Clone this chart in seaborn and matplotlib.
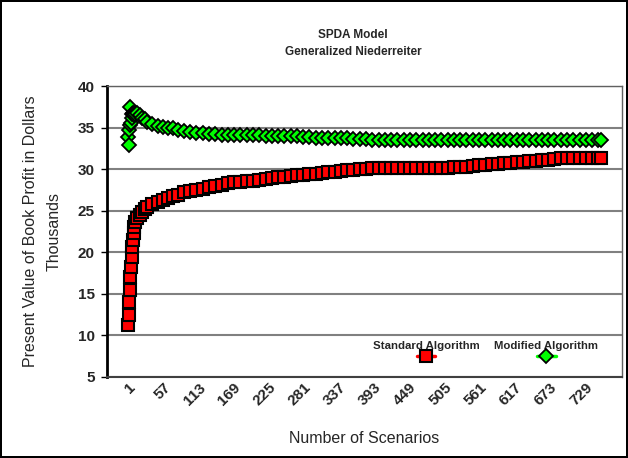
import pandas as pd
import matplotlib
matplotlib.use("Agg")
import matplotlib.pyplot as plt
import seaborn as sns
from matplotlib.offsetbox import VPacker

# scenario numbers at which the running estimate is drawn
scenarios = [
    1, 2, 3, 4, 5, 6, 7, 8, 9, 10, 11, 12,
    16, 20, 24, 28, 32, 40, 48, 56, 64, 72, 80,
    90, 100, 110, 120, 130, 140, 150, 160, 170, 180,
    190, 200, 210, 220, 230, 240, 250, 260, 270, 280,
    290, 300, 310, 320, 330, 340, 350, 360, 370, 380,
    390, 400, 410, 420, 430, 440, 450, 460, 470, 480,
    490, 500, 510, 520, 530, 540, 550, 560, 570, 580,
    590, 600, 610, 620, 630, 640, 650, 660, 670, 680,
    690, 700, 710, 720, 730, 740, 750, 754,
]

# Standard Algorithm (thousands of dollars)
standard = [
    11.2, 12.4, 14.0, 15.5, 17.0, 18.2, 19.4, 20.6, 21.5, 22.3, 23.0, 23.6,
    24.1, 24.5, 24.9, 25.2, 25.4, 25.8, 26.1, 26.3, 26.5, 26.75, 26.95,
    27.2, 27.35, 27.5, 27.65, 27.8, 27.95, 28.1, 28.3, 28.4, 28.5,
    28.55, 28.6, 28.7, 28.8, 28.9, 29.0, 29.1, 29.2, 29.25, 29.3,
    29.4, 29.45, 29.55, 29.6, 29.7, 29.8, 29.85, 29.95, 30.0, 30.05,
    30.1, 30.1, 30.1, 30.1, 30.1, 30.1, 30.1, 30.1, 30.1, 30.15,
    30.15, 30.15, 30.15, 30.2, 30.25, 30.3, 30.4, 30.45, 30.55, 30.6,
    30.65, 30.7, 30.75, 30.8, 30.85, 30.95, 31.0, 31.1, 31.15, 31.2,
    31.3, 31.3, 31.3, 31.3, 31.35, 31.35, 31.35, 31.35,
]

# Modified Algorithm (thousands of dollars)
modified = [
    33.9, 32.9, 34.7, 35.3, 37.5, 35.5, 36.2, 36.6, 36.8, 36.7, 36.5, 36.6,
    36.7, 36.5, 36.2, 36.0, 35.7, 35.4, 35.2, 35.1, 35.0, 34.9, 34.75,
    34.6, 34.5, 34.4, 34.3, 34.25, 34.2, 34.15, 34.1, 34.1, 34.1,
    34.1, 34.05, 34.05, 34.0, 34.0, 34.0, 34.0, 33.95, 33.95, 33.9,
    33.85, 33.8, 33.8, 33.75, 33.75, 33.7, 33.7, 33.65, 33.6, 33.6,
    33.55, 33.55, 33.55, 33.5, 33.5, 33.55, 33.5, 33.5, 33.45, 33.5,
    33.5, 33.55, 33.5, 33.5, 33.5, 33.45, 33.5, 33.5, 33.55, 33.5,
    33.5, 33.5, 33.5, 33.55, 33.5, 33.5, 33.5, 33.5, 33.55, 33.5,
    33.5, 33.5, 33.5, 33.5, 33.55, 33.5, 33.5, 33.5,
]

tick_scenarios = [1, 57, 113, 169, 225, 281, 337, 393, 449, 505, 561, 617, 673, 729]

df = pd.DataFrame({"scenario": scenarios, "standard": standard, "modified": modified})

sns.set_style("white")
plt.rcParams["font.family"] = ["Liberation Sans", "DejaVu Sans"]

fig = plt.figure(figsize=(6.28, 4.58), dpi=100)
fig.patch.set_edgecolor("black")
fig.patch.set_linewidth(1.5)
ax = fig.add_axes([0.1704, 0.1769, 0.8200, 0.6353])

sns.lineplot(data=df, x="scenario", y="standard", ax=ax, color="#FF0000",
             marker="s", markersize=8, markeredgecolor="black",
             markeredgewidth=1.5, linewidth=2.5, label="Standard Algorithm")
sns.lineplot(data=df, x="scenario", y="modified", ax=ax, color="#00FF00",
             marker="D", markersize=7, markeredgecolor="black",
             markeredgewidth=1.3, linewidth=2.5, label="Modified Algorithm")

ax.set_xlim(-32.4, 787.6)
ax.set_ylim(5, 40)
ax.set_yticks(range(5, 41, 5))
ax.set_xticks(tick_scenarios)
ax.set_xticklabels([str(t) for t in tick_scenarios], rotation=45, ha="right",
                   va="top", rotation_mode="anchor",
                   fontsize=11, fontweight="bold")
ax.tick_params(axis="x", length=0, pad=2.6)
ax.tick_params(axis="y", direction="out", length=4, width=1, color="black",
               pad=5, labelsize=11, left=True)
for lab in ax.get_yticklabels():
    lab.set_fontweight("bold")

ax.grid(axis="y", color="#808080", linewidth=1.5)
ax.grid(axis="x", visible=False)
ax.set_axisbelow(True)
ax.spines["left"].set_color("black")
ax.spines["left"].set_linewidth(2)
ax.spines["bottom"].set_color("#404040")
ax.spines["bottom"].set_linewidth(1.5)
ax.spines["top"].set_color("#606060")
ax.spines["top"].set_linewidth(1)
ax.spines["right"].set_color("#606060")
ax.spines["right"].set_linewidth(1)

ax.set_xlabel("Number of Scenarios", fontsize=11.5)
ax.xaxis.set_label_coords(0.5, -0.185)
ax.set_ylabel("Present Value of Book Profit in Dollars\nThousands",
              fontsize=11.5, linespacing=1.7)
ax.yaxis.set_label_coords(-0.089, 0.5)

ax.set_title("SPDA Model\nGeneralized Niederreiter", fontsize=8.5,
             fontweight="bold", x=0.478, pad=22, linespacing=1.6)

# legend: label text above its marker, as in the original
leg = ax.legend(loc="lower right", bbox_to_anchor=(0.953, 0.214),
                bbox_transform=fig.transFigure, ncol=2, frameon=False,
                markerfirst=False, columnspacing=1.3, handlelength=1.6,
                borderpad=0, borderaxespad=0,
                prop={"size": 8.2, "weight": "bold"})
for col in leg._legend_handle_box.get_children():
    items = col.get_children()
    for i, item in enumerate(items):
        text_box, handle_box = item.get_children()
        items[i] = VPacker(pad=0, sep=1, align="center",
                           children=[text_box, handle_box])

fig.savefig("out.png", dpi=100)
